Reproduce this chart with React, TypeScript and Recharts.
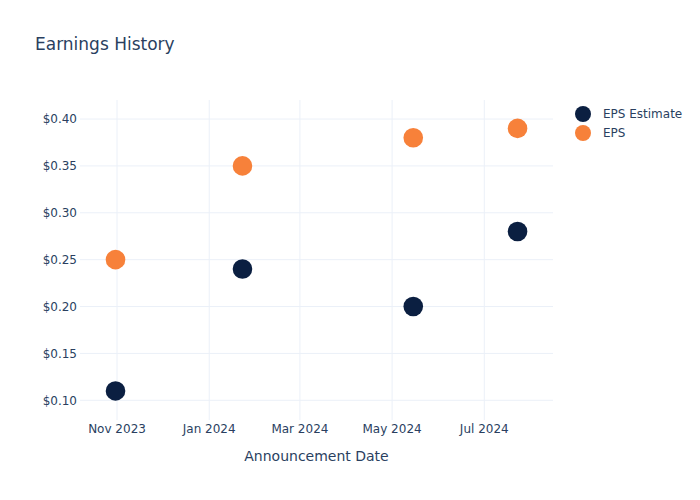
import React from "react";
import { ScatterChart, Scatter, XAxis, YAxis, CartesianGrid, Legend, Label } from "recharts";

const dates = ["2023-10-31", "2024-01-23", "2024-05-15", "2024-07-23"];
const epsEstimate = [0.11, 0.24, 0.2, 0.28];
const eps = [0.25, 0.35, 0.38, 0.39];
const xTickDates = ["2023-11-01", "2024-01-01", "2024-03-01", "2024-05-01", "2024-07-01"];
const yTicks = [0.1, 0.15, 0.2, 0.25, 0.3, 0.35, 0.4];
const monthNames = ["Jan", "Feb", "Mar", "Apr", "May", "Jun", "Jul", "Aug", "Sep", "Oct", "Nov", "Dec"];

const toTs = (d: string) => new Date(d + "T00:00:00Z").getTime();
const estData = dates.map((d, i) => ({ x: toTs(d), y: epsEstimate[i] }));
const epsData = dates.map((d, i) => ({ x: toTs(d), y: eps[i] }));
const xTicks = xTickDates.map(toTs);

const X_DOMAIN: [number, number] = [toTs("2023-10-07") + 12 * 3600e3, toTs("2024-08-15") + 11 * 3600e3];
const Y_DOMAIN: [number, number] = [0.079, 0.4203];

const NAVY = "#0b1f41";
const ORANGE = "#f7813a";
const TEXT = "#2a3f5f";
const FONT = "'DejaVu Sans', Verdana, sans-serif";

const fmtDate = (t: number) => {
  const d = new Date(t);
  return `${monthNames[d.getUTCMonth()]} ${d.getUTCFullYear()}`;
};

const dot = (color: string) => (props: any) => (
  <circle cx={props.cx} cy={props.cy} r={9.8} fill={color} />
);

const LegendContent = () => (
  <div style={{ fontFamily: FONT, fontSize: 12, color: TEXT }}>
    {[
      { name: "EPS Estimate", color: NAVY },
      { name: "EPS", color: ORANGE },
    ].map((it) => (
      <div key={it.name} style={{ display: "flex", alignItems: "center", height: 19 }}>
        <svg width={16} height={16} style={{ marginRight: 12 }}>
          <circle cx={8} cy={8} r={8} fill={it.color} />
        </svg>
        <span>{it.name}</span>
      </div>
    ))}
  </div>
);

const vGen = ({ offset }: any) =>
  xTicks.map((t) => offset.left + ((t - X_DOMAIN[0]) / (X_DOMAIN[1] - X_DOMAIN[0])) * offset.width);
const hGen = ({ offset }: any) =>
  yTicks.map((v) => offset.top + offset.height - ((v - Y_DOMAIN[0]) / (Y_DOMAIN[1] - Y_DOMAIN[0])) * offset.height);

export default function App() {
  return (
    <div style={{ position: "absolute", left: 0, top: 0, width: 700, height: 500, background: "#fff" }}>
      <div
        style={{
          position: "absolute",
          left: 35,
          top: 33,
          fontFamily: FONT,
          fontSize: 17,
          color: TEXT,
          lineHeight: "22px",
        }}
      >
        Earnings History
      </div>
      <ScatterChart width={700} height={500} margin={{ top: 100, right: 147, left: 20, bottom: 30 }}>
        <CartesianGrid
          stroke="#ebf0f8"
          strokeWidth={1}
          verticalCoordinatesGenerator={vGen}
          horizontalCoordinatesGenerator={hGen}
        />
        <XAxis
          dataKey="x"
          type="number"
          domain={X_DOMAIN}
          ticks={xTicks}
          tickFormatter={fmtDate}
          axisLine={false}
          tickLine={false}
          tickSize={0}
          tickMargin={4}
          height={50}
          tick={{ fill: TEXT, fontSize: 12, fontFamily: FONT }}
          allowDataOverflow
        >
          <Label
            value="Announcement Date"
            position="insideBottom"
            offset={9}
            style={{ fill: TEXT, fontSize: 14, fontFamily: FONT }}
          />
        </XAxis>
        <YAxis
          dataKey="y"
          type="number"
          domain={Y_DOMAIN}
          ticks={yTicks}
          tickFormatter={(v: number) => `$${v.toFixed(2)}`}
          axisLine={false}
          tickLine={false}
          tickSize={0}
          tickMargin={3}
          width={60}
          tick={{ fill: TEXT, fontSize: 12, fontFamily: FONT }}
          allowDataOverflow
        />
        <Legend
          layout="vertical"
          align="center"
          verticalAlign="middle"
          content={<LegendContent />}
          wrapperStyle={{ position: "absolute", left: 575, top: 104.5, width: 125 }}
        />
        <Scatter name="EPS Estimate" data={estData} fill={NAVY} shape={dot(NAVY)} isAnimationActive={false} />
        <Scatter name="EPS" data={epsData} fill={ORANGE} shape={dot(ORANGE)} isAnimationActive={false} />
      </ScatterChart>
    </div>
  );
}
